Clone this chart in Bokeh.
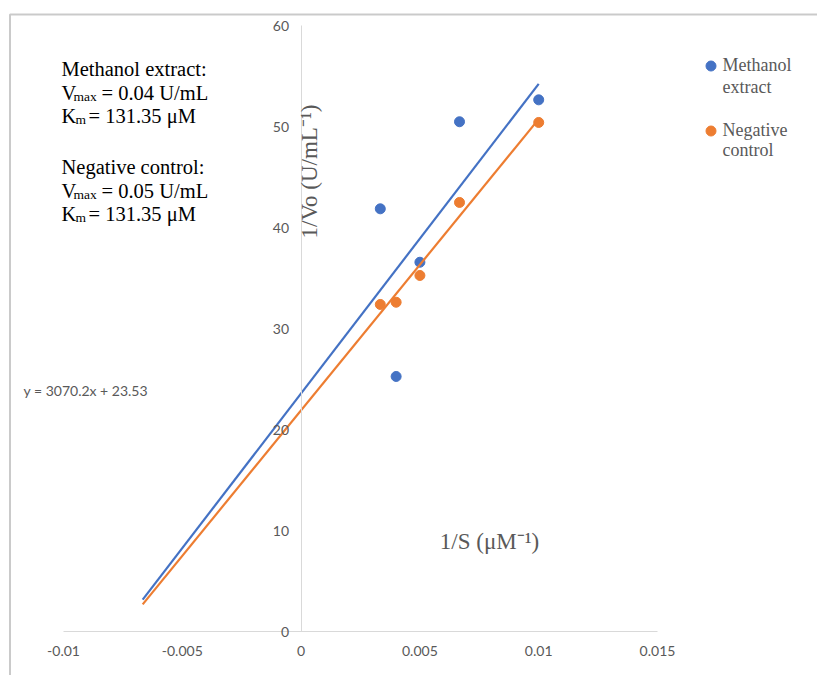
import numpy as np
from bokeh.plotting import figure
from bokeh.models import Range1d, FixedTicker, Label, Legend, LegendItem, BoxAnnotation
from bokeh.embed import file_html
from bokeh.resources import INLINE

# ---- data ----
inv_s = [0.003333, 0.004, 0.005, 0.006667, 0.01]          # 1/S (uM^-1)
methanol = [41.85, 25.25, 36.56, 50.47, 52.64]             # 1/Vo methanol extract
negative = [32.38, 32.60, 35.25, 42.48, 50.40]             # 1/Vo negative control
x_ticks = [-0.01, -0.005, 0, 0.005, 0.01, 0.015]
x_tick_labels = ["-0.01", "-0.005", "0", "0.005", "0.01", "0.015"]
y_ticks = [0, 10, 20, 30, 40, 50, 60]
y_tick_labels = ["0", "10", "20", "30", "40", "50", "60"]
backward_forecast = 0.01

# ---- pixel <-> data helpers (layout) ----
X0_PX, PX_PER_X = 300.6, 23760.0
Y0_PX, PX_PER_Y = 631.0, 10.1
W, H = 817, 675
def dx(px):
    return (px - X0_PX) / PX_PER_X
def dy(py):
    return (Y0_PX - py) / PX_PER_Y

p = figure(width=W, height=H, x_range=Range1d(dx(0), dx(W)), y_range=Range1d(dy(H), dy(0)),
           output_backend="svg", toolbar_location=None, min_border=0, title=None)
p.outline_line_color = None
p.grid.visible = False
p.background_fill_color = "white"
p.border_fill_color = "white"

grey = "#595959"
for ax in (p.xaxis[0], p.yaxis[0]):
    ax.fixed_location = 0
    ax.axis_line_color = "#d9d9d9"
    ax.axis_line_width = 1
    ax.major_tick_line_color = None
    ax.minor_tick_line_color = None
    ax.major_tick_out = 0
    ax.major_tick_in = 0
    ax.major_label_text_color = grey
    ax.major_label_text_font = "Lato"
    ax.major_label_text_font_size = "14px"

p.xaxis[0].bounds = (x_ticks[0], x_ticks[-1])
p.xaxis[0].ticker = FixedTicker(ticks=x_ticks)
p.xaxis[0].major_label_overrides = {t: l for t, l in zip(x_ticks, x_tick_labels)}
p.xaxis[0].major_label_standoff = 14
p.yaxis[0].bounds = (y_ticks[0], y_ticks[-1])
p.yaxis[0].ticker = FixedTicker(ticks=y_ticks)
p.yaxis[0].major_label_overrides = {t: l for t, l in zip(y_ticks, y_tick_labels)}
p.yaxis[0].major_label_standoff = 12

# ---- data points ----
blue_c, orange_c = "#4472C4", "#ED7D31"
r_blue = p.scatter(inv_s, methanol, size=10, color=blue_c)
r_orange = p.scatter(inv_s, negative, size=10, color=orange_c)

# ---- linear trendlines (least squares, backward forecast) ----
xa = np.array(inv_s)
x_fit = np.array([xa.min() - backward_forecast, xa.max()])
for yv, c in ((methanol, blue_c), (negative, orange_c)):
    m, b = np.polyfit(xa, np.array(yv), 1)
    p.line(x_fit, m * x_fit + b, line_color=c, line_width=2.2)

# ---- outer chart border ----
p.add_layout(BoxAnnotation(left=dx(9.5), top=dy(14), right=dx(W + 20), bottom=dy(H + 20),
                           fill_color=None, line_color="#505050", line_width=2))

# ---- axis titles ----
p.add_layout(Label(x=dx(309), y=dy(171), text="1/Vo (U/mL\u207b\u00b9)", angle=np.pi / 2,
                   text_font="Liberation Serif", text_font_size="23px", text_color=grey,
                   text_align="center", text_baseline="middle"))
p.add_layout(Label(x=dx(489), y=dy(541), text="1/S (\u03bcM\u207b\u00b9)",
                   text_font="Liberation Serif", text_font_size="23px", text_color=grey,
                   text_align="center", text_baseline="middle"))

# ---- equation ----
p.add_layout(Label(x=dx(23), y=dy(390), text="y = 3070.2x + 23.53",
                   text_font="Lato", text_font_size="14px", text_color=grey,
                   text_align="left", text_baseline="middle"))

# ---- kinetic annotations ----
def tl(px, py, text, size="20.5px", color="black"):
    p.add_layout(Label(x=dx(px), y=dy(py), text=text, text_font="Liberation Serif",
                       text_font_size=size, text_color=color,
                       text_align="left", text_baseline="alphabetic"))

for base, head, vmax in ((68.5, "Methanol extract:", "0.04"), (166.7, "Negative control:", "0.05")):
    tl(61, base, head)
    tl(61, base + 23.5, "V")
    tl(73, base + 27.5, "max", "13.5px")
    tl(101, base + 23.5, "= " + vmax + " U/mL")
    tl(61, base + 46.7, "K")
    tl(75, base + 50, "m", "13.5px")
    tl(88, base + 46.7, "= 131.35 \u03bcM")

# ---- legend ----
legend = Legend(items=[LegendItem(label="Methanol", renderers=[r_blue]),
                       LegendItem(label="Negative", renderers=[r_orange])],
                location=(697.5, H - 52.5 - 90), padding=0, margin=0, spacing=40,
                border_line_color=None, background_fill_alpha=0,
                glyph_width=25, glyph_height=25, label_standoff=0,
                label_text_font="Liberation Serif", label_text_font_size="18px",
                label_text_color=grey)
p.add_layout(legend)
tl(722, 86.5, "extract", "18px", grey)
tl(722, 149.5, "control", "18px", grey)

open("out.html", "w").write(file_html(p, INLINE))
